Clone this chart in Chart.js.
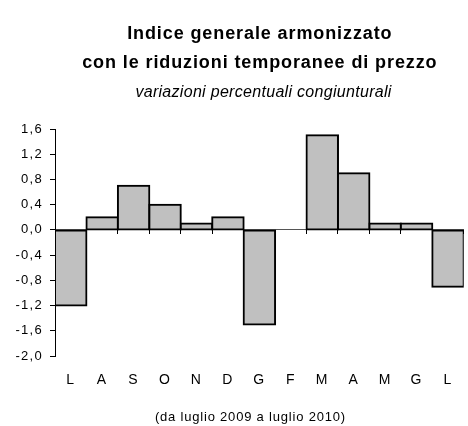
<!DOCTYPE html>
<html>
<head>
<meta charset="utf-8">
<script src="https://cdn.jsdelivr.net/npm/chart.js@4/dist/chart.umd.min.js"></script>
<style>
  html, body { margin: 0; padding: 0; background: #fff; }
  #wrap { width: 468px; height: 426px; position: relative; }
</style>
</head>
<body>
<div id="wrap"><canvas id="c" width="468" height="426"></canvas></div>
<script>
const categories = ['L', 'A', 'S', 'O', 'N', 'D', 'G', 'F', 'M', 'A', 'M', 'G', 'L'];
const values = [-1.2, 0.2, 0.7, 0.4, 0.1, 0.2, -1.5, 0, 1.5, 0.9, 0.1, 0.1, -0.9];
const yTickMin = -2.0;
const yTickMax = 1.6;
const yTickStep = 0.4;
const titleLines = ['Indice generale armonizzato', 'con le riduzioni temporanee di prezzo'];
const subtitleText = 'variazioni percentuali congiunturali';
const footerText = '(da luglio 2009 a luglio 2010)';

const FONT = '"Liberation Sans", Arial, sans-serif';

function drawSpaced(ctx, text, cx, y, spacing) {
  ctx.letterSpacing = spacing + 'px';
  const w = ctx.measureText(text).width - spacing;
  ctx.textAlign = 'left';
  ctx.fillText(text, cx - w / 2, y);
  ctx.letterSpacing = '0px';
}

const spacingPlugin = {
  id: 'spacing',
  beforeDraw(chart) { chart.ctx.letterSpacing = '1.3px'; },
  afterDatasetsDraw(chart) { chart.ctx.letterSpacing = '0px'; }
};

const textPlugin = {
  id: 'texts',
  afterDraw(chart) {
    const ctx = chart.ctx;
    const ca = chart.chartArea;
    const cx = (ca.left + ca.right) / 2;
    ctx.save();
    ctx.fillStyle = '#000';
    ctx.textBaseline = 'middle';
    ctx.font = 'bold 18px ' + FONT;
    drawSpaced(ctx, titleLines[0], cx, 34, 0.9);
    drawSpaced(ctx, titleLines[1], cx, 63, 0.9);
    ctx.font = 'italic 16px ' + FONT;
    drawSpaced(ctx, subtitleText, cx + 4, 93, 0.3);
    ctx.font = '13px ' + FONT;
    drawSpaced(ctx, footerText, 250, 417, 0.8);
    ctx.restore();
  }
};

new Chart(document.getElementById('c'), {
  type: 'bar',
  data: {
    labels: categories,
    datasets: [{
      data: values,
      backgroundColor: '#c0c0c0',
      borderColor: '#000',
      borderWidth: 2,
      borderSkipped: false,
      inflateAmount: 1,
      barPercentage: 1,
      categoryPercentage: 1
    }]
  },
  options: {
    responsive: false,
    animation: false,
    devicePixelRatio: 1,
    layout: { padding: { top: 129, right: 2, left: 0, bottom: 0 } },
    plugins: {
      legend: { display: false },
      title: { display: false },
      tooltip: { enabled: false }
    },
    scales: {
      x: {
        type: 'category',
        position: 'bottom',
        grid: { display: false, drawTicks: false },
        border: { display: false },
        ticks: {
          padding: 16,
          color: '#000',
          font: { family: FONT, size: 14 },
          maxRotation: 0,
          autoSkip: false
        },
        afterFit(scale) { scale.height = 70; }
      },
      x2: {
        type: 'category',
        labels: categories,
        position: { y: 0 },
        offset: true,
        grid: { display: true, drawOnChartArea: false, offset: true, tickLength: 4, color: '#000', lineWidth: 1 },
        border: { display: true, color: '#555', width: 1 },
        ticks: { display: false }
      },
      y: {
        min: yTickMin,
        max: yTickMax,
        grid: { drawOnChartArea: false, drawTicks: true, tickLength: 5, color: '#000' },
        border: { display: true, color: '#000', width: 1 },
        ticks: {
          stepSize: yTickStep,
          padding: 7,
          color: '#000',
          font: { family: FONT, size: 13 },
          callback(v) {
            const n = Math.abs(v) < 1e-9 ? 0 : v;
            return n.toFixed(1).replace('.', ',');
          }
        },
        afterFit(scale) { scale.width = 55; }
      }
    }
  },
  plugins: [spacingPlugin, textPlugin]
});
</script>
</body>
</html>
